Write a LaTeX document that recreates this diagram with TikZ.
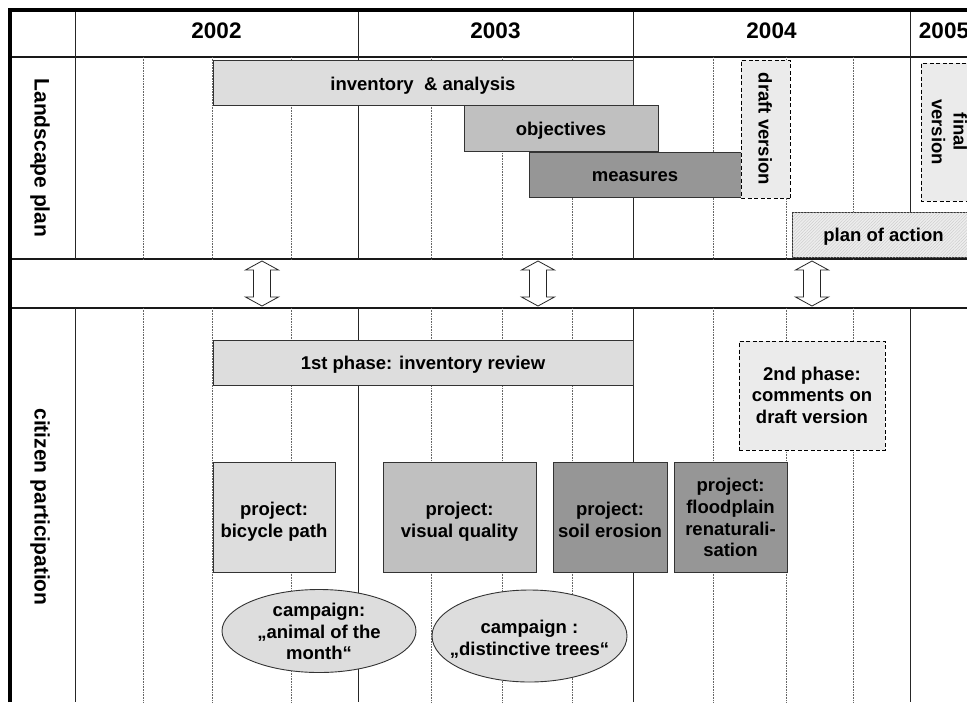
\documentclass[tikz,border=0pt]{standalone}
\usepackage{fontspec}
\setmainfont{Liberation Sans}
\usetikzlibrary{shapes.geometric,patterns.meta}
\definecolor{lightg}{HTML}{DDDDDD}
\definecolor{midg}{HTML}{C0C0C0}
\definecolor{darkg}{HTML}{969696}
\definecolor{paleg}{HTML}{EBEBEB}
\definecolor{edge}{HTML}{333333}
\newcommand{\mytopstrut}{\rule{0pt}{21pt}}
\newcommand{\mybotstrut}{\rule[-7pt]{0pt}{7pt}}
\begin{document}
\begin{tikzpicture}[x=1pt,y=-1pt,
  every node/.style={inner sep=0pt, outer sep=0pt},
  txt/.style={font=\bfseries\fontsize{18.5}{21.7}\selectfont, align=center, text=black,
    execute at begin node=\mytopstrut, execute at end node=\mybotstrut},
  bar/.style={draw=edge, line width=0.9pt, txt},
  yearlbl/.style={font=\bfseries\fontsize{22.5}{26}\selectfont},
  rowlbl/.style={font=\bfseries\fontsize{21}{25}\selectfont, rotate=-90},
  major/.style={line width=1pt, black!85},
  minor/.style={line width=0.7pt, black!60, dash pattern=on 0.8pt off 0.8pt},
  sep/.style={line width=1.4pt, black!90},
  frame/.style={line width=3.6pt, black},
  dblarrow/.style={draw=black!85, fill=white, line width=0.8pt, line join=miter},
  dashbox/.style={draw=black, dash pattern=on 4pt off 2.5pt, line width=0.9pt, fill=paleg, txt},
  projbox/.style={draw=edge, line width=0.9pt, minimum width=#1, minimum height=110pt},
  camp/.style={ellipse, draw=edge, line width=0.9pt, fill=lightg},
]
\useasboundingbox (0,0) rectangle (967,702);
\clip (0,0) rectangle (967,702);
\fill[white] (0,0) rectangle (967,702);

% grid: horizontal separators
\foreach \yy in {57,259,308} \draw[sep] (10,\yy) -- (967,\yy);
% major vertical lines
\foreach \xx in {75,358,633,910} {
  \draw[major] (\xx,10) -- (\xx,259);
  \draw[major] (\xx,308) -- (\xx,702);
}
% minor (quarter) lines
\foreach \xx in {143,212,291,431,502,572,713,786,853} {
  \draw[minor] (\xx,57) -- (\xx,259);
  \draw[minor] (\xx,308) -- (\xx,702);
}
% frame
\draw[frame] (10,702) -- (10,10) -- (967,10);

% headers
\node[yearlbl] (y2002) at (216.5,31) {2002};
\node[yearlbl] (y2003) at (495.5,31) {2003};
\node[yearlbl] (y2004) at (771.5,31) {2004};
\node[yearlbl] (y2005) at (944,31) {2005};
\node[rowlbl] (lp) at (40,158) {Landscape plan};
\node[rowlbl] (cp) at (40,507) {citizen participation};

% landscape plan bars
\node[bar, fill=lightg, minimum width=420pt, minimum height=45pt] (inv) at (423,83) {inventory \ \& analysis};
\node[bar, fill=midg, minimum width=194pt, minimum height=46pt] (obj) at (561,128.5) {objectives};
\node[bar, fill=darkg, minimum width=212pt, minimum height=45pt] (meas) at (635,174.5) {measures};
\node[dashbox, rotate=-90, minimum width=138pt, minimum height=49pt] (draft) at (765.5,129) {draft version};
\node[dashbox, rotate=-90, minimum width=138pt, minimum height=50pt] (final) at (946,132) {final\\version};
\node[bar, fill=black!7, postaction={pattern={Lines[angle=45,distance=2.2pt,line width=0.35pt]}, pattern color=black!22}, minimum width=183pt, minimum height=45pt] (plan) at (883.5,234.5) {};
\node[txt] (plant) at (plan) {plan of action};

% double arrows
\coordinate (ar1) at (262,283.5);
\coordinate (ar2) at (538,283.5);
\coordinate (ar3) at (812,283.5);
\foreach \a in {ar1,ar2,ar3}
  \draw[dblarrow, shift={(\a)}] (0,-22.5) -- (16.5,-13.5) -- (8.5,-13.5) -- (8.5,13.5) -- (16.5,13.5)
     -- (0,22.5) -- (-16.5,13.5) -- (-8.5,13.5) -- (-8.5,-13.5) -- (-16.5,-13.5) -- cycle;

% citizen participation
\node[bar, fill=lightg, minimum width=420pt, minimum height=45pt] (ph1) at (423,362.5) {1st phase: inventory review};
\node[draw=black, dash pattern=on 4pt off 2.5pt, line width=0.9pt, fill=paleg, minimum width=146pt, minimum height=109pt] (ph2) at (812,395.5) {};
\node[txt, yshift=-3pt] (ph2t) at (ph2) {2nd phase:\\comments on\\draft version};

\node[projbox=122pt, fill=lightg] (bike) at (274,517) {};
\node[txt, yshift=-6pt] (biket) at (bike) {project:\\bicycle path};
\node[projbox=153pt, fill=midg] (vis) at (459.5,517) {};
\node[txt, yshift=-6pt] (vist) at (vis) {project:\\visual quality};
\node[projbox=114pt, fill=darkg] (soil) at (610,517) {};
\node[txt, yshift=-6pt] (soilt) at (soil) {project:\\soil erosion};
\node[projbox=113pt, fill=darkg] (flood) at (730.5,517) {};
\node[txt, yshift=-4pt] (floodt) at (flood) {project:\\floodplain\\renaturali-\\sation};

\node[camp, minimum width=194pt, minimum height=83pt] (ell1) at (319,631) {};
\node[txt, yshift=-4pt] (ell1t) at (ell1) {campaign:\\„animal of the\\month“};
\node[camp, minimum width=195pt, minimum height=92pt] (ell2) at (529.5,636) {};
\node[txt, yshift=-5pt] (ell2t) at (ell2) {campaign :\\„distinctive trees“};
\end{tikzpicture}
\end{document}
